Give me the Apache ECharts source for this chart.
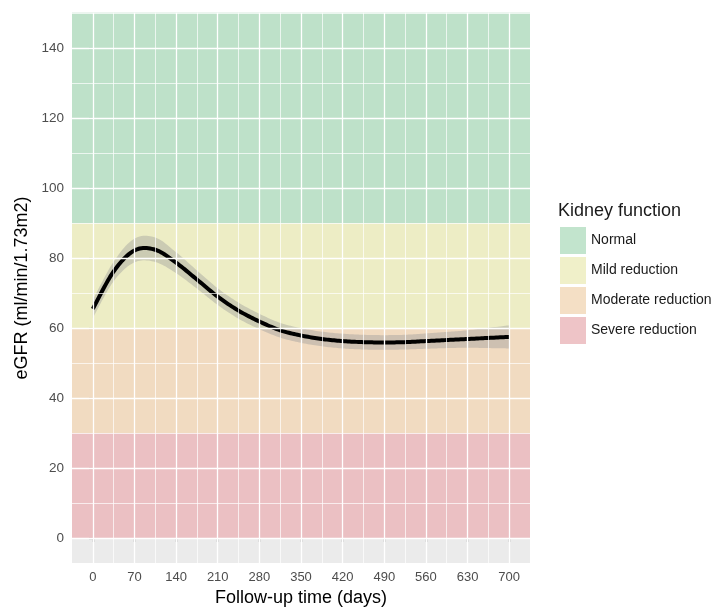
<!DOCTYPE html>
<html>
<head>
<meta charset="utf-8">
<script src="https://cdn.jsdelivr.net/npm/echarts@6/dist/echarts.min.js"></script>
<style>html,body{margin:0;padding:0;background:#fff}#c{width:720px;height:612px}</style>
</head>
<body>
<div id="c"></div>
<script>
// ---- data ----
var days  = [0, 35, 70, 105, 140, 175, 210, 245, 280, 315, 350, 385, 420, 455, 490, 525, 560, 595, 630, 665, 700];
var egfr  = [65.5, 76.2, 82.2, 82.4, 78.7, 73.9, 69.0, 65.0, 61.9, 59.4, 57.9, 56.9, 56.3, 56.0, 55.9, 56.0, 56.3, 56.6, 56.9, 57.2, 57.5];
var lower = [62.9, 73.4, 78.8, 78.9, 75.7, 71.3, 66.6, 62.7, 59.7, 57.3, 55.8, 54.8, 54.2, 53.9, 53.8, 53.9, 54.1, 54.3, 54.4, 54.3, 54.2];
var upper = [68.1, 79.0, 85.6, 85.9, 81.7, 76.5, 71.4, 67.3, 64.1, 61.5, 60.0, 59.0, 58.4, 58.1, 58.0, 58.1, 58.5, 58.9, 59.4, 60.1, 60.8];
var xTicks = [0, 70, 140, 210, 280, 350, 420, 490, 560, 630, 700];
var yTicks = [0, 20, 40, 60, 80, 100, 120, 140];
var bandNames = ['Normal', 'Mild reduction', 'Moderate reduction', 'Severe reduction'];
var bandLow   = [90, 60, 30, 0];
var bandHigh  = [150.15, 90, 60, 30];

// ---- styles ----
var FONT = 'Liberation Sans, Arial, sans-serif';
var X_MIN = -35, X_MAX = 735, Y_MIN = -7.15, Y_MAX = 150.15;
var bandFill = ['rgba(145,215,167,0.5)', 'rgba(239,239,159,0.5)', 'rgba(247,203,151,0.5)', 'rgba(235,149,155,0.5)'];
var keyFill  = ['rgb(194,228,205)', 'rgb(240,240,201)', 'rgb(244,223,197)', 'rgb(238,196,199)'];

// gridline positions derived from the tick arrays (majors + midpoints)
var xMinor = [], yMinor = [];
var xs = xTicks[1] - xTicks[0], ys = yTicks[1] - yTicks[0];
for (var i = 0; i < xTicks.length; i++) {
  xMinor.push(xTicks[i] - xs / 2);
  if (i === xTicks.length - 1) xMinor.push(xTicks[i] + xs / 2);
}
for (var j = 0; j < yTicks.length; j++) yMinor.push(yTicks[j] + ys / 2);
var gridLines = [];
xTicks.forEach(function (v) { gridLines.push({ xAxis: v, lineStyle: { width: 1.3 } }); });
yTicks.forEach(function (v) { gridLines.push({ yAxis: v, lineStyle: { width: 1.3 } }); });
xMinor.forEach(function (v) { if (v > X_MIN && v < X_MAX) gridLines.push({ xAxis: v, lineStyle: { width: 0.7 } }); });
yMinor.forEach(function (v) { if (v > Y_MIN && v < Y_MAX) gridLines.push({ yAxis: v, lineStyle: { width: 0.7 } }); });

// Catmull-Rom sampling of pixel points (smooth curve through the read values)
function sampleCurve(pts) {
  var out = [], n = pts.length;
  for (var k = 0; k < n - 1; k++) {
    var p0 = pts[Math.max(k - 1, 0)], p1 = pts[k], p2 = pts[k + 1], p3 = pts[Math.min(k + 2, n - 1)];
    for (var s = 0; s < 12; s++) {
      var t = s / 12, t2 = t * t, t3 = t2 * t;
      out.push([
        0.5 * (2 * p1[0] + (-p0[0] + p2[0]) * t + (2 * p0[0] - 5 * p1[0] + 4 * p2[0] - p3[0]) * t2 + (-p0[0] + 3 * p1[0] - 3 * p2[0] + p3[0]) * t3),
        0.5 * (2 * p1[1] + (-p0[1] + p2[1]) * t + (2 * p0[1] - 5 * p1[1] + 4 * p2[1] - p3[1]) * t2 + (-p0[1] + 3 * p1[1] - 3 * p2[1] + p3[1]) * t3)
      ]);
    }
  }
  out.push(pts[n - 1]);
  return out;
}

var series = [];
series.push({
  name: '_grid', type: 'line', data: [], silent: true, z: 1,
  markLine: { silent: true, symbol: 'none', label: { show: false }, animation: false,
    lineStyle: { color: '#ffffff', type: 'solid', opacity: 1 }, data: gridLines }
});
bandNames.forEach(function (n, k) {
  series.push({
    name: n, type: 'line', data: [], z: 2, silent: true,
    itemStyle: { color: keyFill[k] }, lineStyle: { color: keyFill[k] },
    markArea: { silent: true, animation: false, itemStyle: { color: bandFill[k] },
      data: [[{ yAxis: bandLow[k] }, { yAxis: bandHigh[k] }]] }
  });
});
series.push({
  name: '_ribbon', type: 'custom', z: 3, silent: true,
  data: [[days[0], lower[0]]],
  renderItem: function (params, api) {
    var up = days.map(function (d, k) { return api.coord([d, upper[k]]); });
    var lo = days.map(function (d, k) { return api.coord([d, lower[k]]); });
    var pts = sampleCurve(up).concat(sampleCurve(lo).reverse());
    return { type: 'polygon', shape: { points: pts }, style: { fill: 'rgba(153,153,153,0.4)', stroke: null } };
  }
});
series.push({
  name: '_fit', type: 'custom', z: 4, silent: true,
  data: [[days[0], egfr[0]]],
  renderItem: function (params, api) {
    var pts = sampleCurve(days.map(function (d, k) { return api.coord([d, egfr[k]]); }));
    return { type: 'polyline', shape: { points: pts },
      style: { stroke: '#000000', lineWidth: 4, fill: null, lineJoin: 'round', lineCap: 'butt' } };
  }
});

var chart = echarts.init(document.getElementById('c'), null, { renderer: 'canvas' });
chart.setOption({
  animation: false,
  textStyle: { fontFamily: FONT },
  title: {
    text: 'Kidney function', left: 558, top: 202, padding: 0,
    textStyle: { fontSize: 18, fontWeight: 'normal', color: '#1a1a1a', fontFamily: FONT }
  },
  legend: {
    data: bandNames, orient: 'vertical', left: 560, top: 227, padding: 0,
    icon: 'rect', itemWidth: 26, itemHeight: 27, itemGap: 3,
    itemStyle: { borderWidth: 0 },
    textStyle: { fontSize: 14, color: '#1a1a1a', fontFamily: FONT },
    selectedMode: false
  },
  grid: {
    left: 72, right: 190, top: 12.7, bottom: 48.7, show: true,
    backgroundColor: '#EBEBEB', borderWidth: 0, containLabel: false
  },
  xAxis: {
    type: 'value', min: X_MIN, max: X_MAX,
    name: 'Follow-up time (days)', nameLocation: 'middle', nameGap: 22,
    nameTextStyle: { fontSize: 18, color: '#000', fontFamily: FONT },
    axisLine: { show: false },
    splitLine: { show: false },
    axisTick: { show: true, customValues: xTicks, length: 4, lineStyle: { color: '#333', width: 1.2 } },
    axisLabel: { customValues: xTicks, color: '#4D4D4D', fontSize: 13, margin: 8, fontFamily: FONT }
  },
  yAxis: {
    type: 'value', min: Y_MIN, max: Y_MAX,
    name: 'eGFR (ml/min/1.73m2)', nameLocation: 'middle', nameGap: 40,
    nameTextStyle: { fontSize: 18, color: '#000', fontFamily: FONT },
    axisLine: { show: false },
    splitLine: { show: false },
    axisTick: { show: true, customValues: yTicks, length: 4, lineStyle: { color: '#333', width: 1.2 } },
    axisLabel: { customValues: yTicks, color: '#4D4D4D', fontSize: 13.5, margin: 8, fontFamily: FONT }
  },
  series: series
});
</script>
</body>
</html>
